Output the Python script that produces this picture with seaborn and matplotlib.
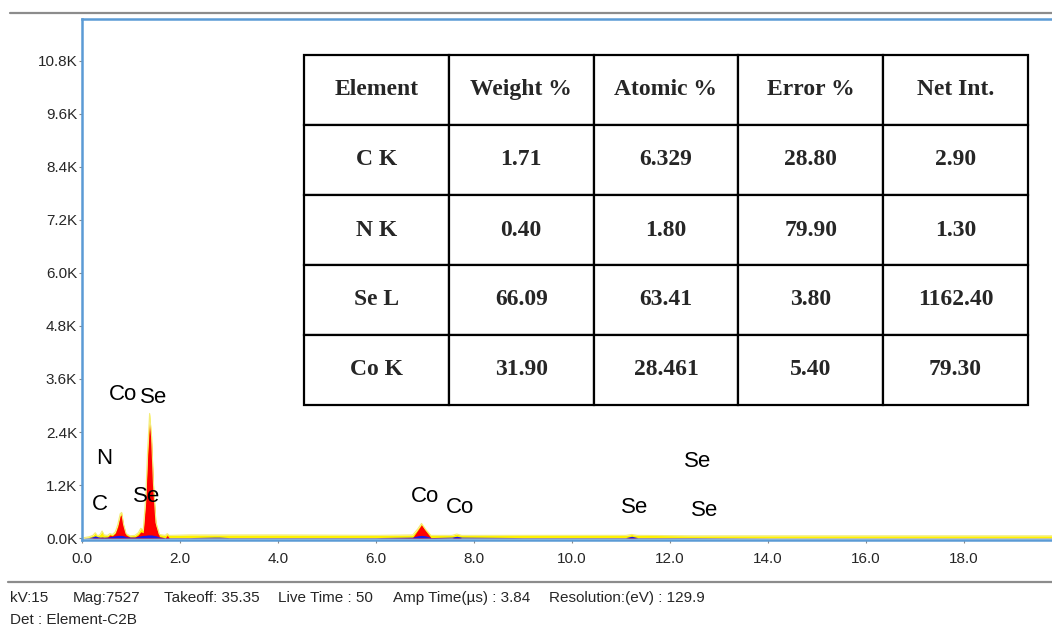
import matplotlib
matplotlib.use("Agg")
import matplotlib.pyplot as plt
from matplotlib.lines import Line2D
from matplotlib.font_manager import FontProperties
import seaborn as sns

# EDS spectrum (counts in thousands)
kev = [0.00, 0.15, 0.22, 0.27, 0.32, 0.37, 0.41, 0.45, 0.52, 0.57,
       0.62, 0.68, 0.73, 0.78, 0.81, 0.85, 0.90, 0.98, 1.08, 1.15,
       1.20, 1.25, 1.30, 1.34, 1.38, 1.42, 1.46, 1.51, 1.58, 1.70,
       1.74, 1.78, 2.20, 2.70, 2.80, 3.00, 4.00, 5.00, 6.00, 6.75,
       6.85, 6.93, 7.01, 7.12, 7.55, 7.65, 7.75, 9.00, 11.10, 11.22,
       11.34, 12.50, 14.00, 16.00, 18.00, 19.80]
total = [0.00, 0.03, 0.06, 0.12, 0.05, 0.08, 0.16, 0.07, 0.06, 0.10,
         0.08, 0.14, 0.30, 0.55, 0.58, 0.30, 0.10, 0.05, 0.06, 0.12,
         0.22, 0.18, 0.90, 2.00, 2.82, 2.30, 1.20, 0.35, 0.08, 0.06,
         0.10, 0.06, 0.07, 0.07, 0.07, 0.07, 0.07, 0.065, 0.06, 0.07,
         0.20, 0.33, 0.20, 0.06, 0.06, 0.09, 0.06, 0.06, 0.06, 0.08,
         0.06, 0.05, 0.05, 0.05, 0.05, 0.05]
fit = [0.00, 0.00, 0.01, 0.02, 0.01, 0.01, 0.02, 0.01, 0.02, 0.07,
       0.05, 0.11, 0.26, 0.50, 0.53, 0.26, 0.07, 0.02, 0.02, 0.07,
       0.14, 0.12, 0.80, 1.85, 2.65, 2.15, 1.08, 0.28, 0.03, 0.00,
       0.06, 0.00, 0.00, 0.00, 0.00, 0.00, 0.00, 0.00, 0.00, 0.01,
       0.17, 0.30, 0.17, 0.01, 0.00, 0.03, 0.00, 0.00, 0.00, 0.02,
       0.00, 0.00, 0.00, 0.00, 0.00, 0.00]
bkg = [0.00, 0.01, 0.03, 0.05, 0.03, 0.02, 0.02, 0.02, 0.02, 0.03,
       0.04, 0.05, 0.06, 0.06, 0.06, 0.05, 0.03, 0.02, 0.02, 0.04,
       0.05, 0.06, 0.06, 0.07, 0.07, 0.07, 0.06, 0.05, 0.02, 0.01,
       0.01, 0.01, 0.01, 0.02, 0.02, 0.01, 0.01, 0.01, 0.01, 0.02,
       0.05, 0.06, 0.05, 0.01, 0.02, 0.04, 0.02, 0.01, 0.01, 0.04,
       0.01, 0.01, 0.005, 0.005, 0.005, 0.005]

# peak labels: (text, keV, counts K)
peak_names = ["Co", "Se", "N", "C", "Se", "Co", "Co", "Se", "Se", "Se"]
peak_kev = [0.84, 1.46, 0.45, 0.37, 1.31, 7.00, 7.71, 11.27, 12.57, 12.71]
peak_ky = [3.24, 3.17, 1.81, 0.77, 0.93, 0.93, 0.70, 0.70, 1.74, 0.63]

# quantification table
header = ["Element", "Weight %", "Atomic %", "Error %", "Net Int."]
elements = ["C K", "N K", "Se L", "Co K"]
weight = ["1.71", "0.40", "66.09", "31.90"]
atomic = ["6.329", "1.80", "63.41", "28.461"]
error = ["28.80", "79.90", "3.80", "5.40"]
net_int = ["2.90", "1.30", "1162.40", "79.30"]

xticks = [0, 2, 4, 6, 8, 10, 12, 14, 16, 18]
yticks = [0, 1.2, 2.4, 3.6, 4.8, 6.0, 7.2, 8.4, 9.6, 10.8]

footer = [("kV:15", 10), ("Mag:7527", 73), ("Takeoff: 35.35", 164),
          ("Live Time : 50", 278), ("Amp Time(\u00b5s) : 3.84", 393),
          ("Resolution:(eV) : 129.9", 549)]

sns.set_theme(style="white")
sans = ["Liberation Sans Narrow", "Liberation Sans", "DejaVu Sans"]
plt.rcParams["font.family"] = sans

W, H = 1052, 630
fig = plt.figure(figsize=(W / 100, H / 100), dpi=100)
ax = fig.add_axes([82 / W, 1 - 540 / H, 1 - 82 / W, (540 - 19) / H])

ax.fill_between(kev, total, color="#fff200", lw=0)
sns.lineplot(x=kev, y=total, ax=ax, color="#f3ec7a", lw=0.8)
ax.fill_between(kev, fit, color="#ff0000", lw=0)
ax.fill_between(kev, bkg, color="#1a1ae6", lw=0)

for name, x, y in zip(peak_names, peak_kev, peak_ky):
    ax.text(x, y, name, ha="center", va="center", fontsize=16,
            family=sans, color="black", zorder=5)

ax.set_xlim(0, 19.8)
ax.set_ylim(-0.045, 11.75)
ax.set_xticks(xticks)
ax.set_xticklabels([f"{v:.1f}" for v in xticks])
ax.set_yticks(yticks)
ax.set_yticklabels([f"{v:.1f}K" for v in yticks])
ax.tick_params(axis="both", labelsize=11, length=2.5, width=0.8,
               color="#888888", left=True, bottom=True)
ax.tick_params(axis="y", pad=1)
ax.tick_params(axis="x", pad=6)
ax.set_xlabel("")
ax.set_ylabel("")

for side in ["left", "top", "bottom"]:
    ax.spines[side].set_color("#5b9bd5")
    ax.spines[side].set_linewidth(1.8)
ax.spines["right"].set_visible(False)

# table inside the plot area
rows = [list(r) for r in zip(elements, weight, atomic, error, net_int)]
ax_w, ax_h = W - 82, 540 - 19
bbox = [(304 - 82) / ax_w, (540 - 405) / ax_h,
        (1028 - 304) / ax_w, (405 - 55) / ax_h]
tbl = ax.table(cellText=rows, colLabels=header, cellLoc="center",
               bbox=bbox, zorder=6)
tbl.auto_set_font_size(False)
serif = FontProperties(family="Liberation Serif", weight="bold", size=17)
for cell in tbl.get_celld().values():
    cell.set_edgecolor("black")
    cell.set_linewidth(1.6)
    cell.set_facecolor("white")
    cell.get_text().set_fontproperties(serif)

# separators and acquisition info
fig.add_artist(Line2D([10 / W, 1], [1 - 13 / H] * 2, color="#8c8c8c", lw=1.6))
fig.add_artist(Line2D([8 / W, 1], [1 - 582 / H] * 2, color="#8c8c8c", lw=1.6))
for txt, px in footer:
    fig.text(px / W, 1 - 598 / H, txt, ha="left", va="center",
             fontsize=11, family=sans)
fig.text(10 / W, 1 - 620 / H, "Det : Element-C2B", ha="left", va="center",
         fontsize=11, family=sans)

fig.savefig("out.png", dpi=100)
